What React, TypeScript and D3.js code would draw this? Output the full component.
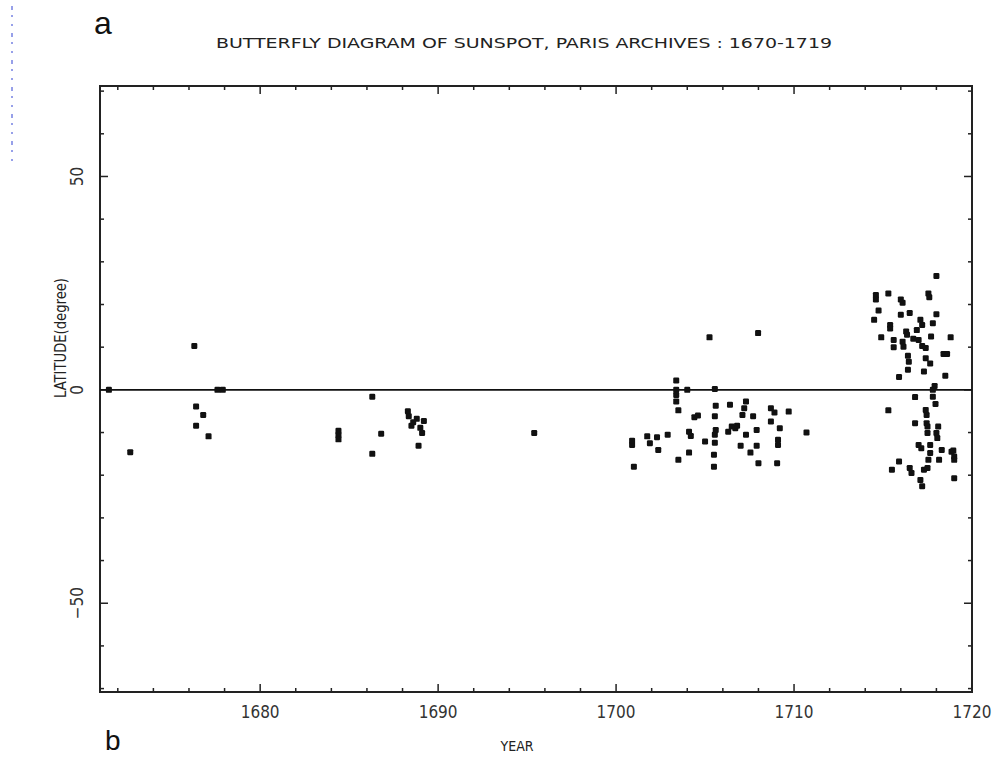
import React from "react";
import * as d3 from "d3";

// ---- data: [year, latitude(deg)] ----
const earlySpots: [number, number][] = [
  [1671.5, 0], [1672.7, -14.6], [1676.3, 10.3], [1676.4, -3.9], [1676.8, -5.9],
  [1676.4, -8.4], [1677.1, -10.9], [1677.6, 0], [1677.9, 0],
  [1684.4, -9.6], [1684.4, -10.6], [1684.4, -11.6], [1686.3, -1.6], [1686.3, -15],
  [1686.8, -10.3], [1688.3, -5.0], [1688.35, -6.2], [1688.8, -6.8], [1689.2, -7.3],
  [1688.5, -8.4], [1689.1, -10.1], [1688.9, -13.1], [1688.6, -7.6], [1689.0, -8.9],
  [1695.4, -10.1],
];

const midSpots: [number, number][] = [
  [1705.25, 12.3], [1707.98, 13.3], [1703.38, 2.2], [1703.38, 0], [1703.38, -1.2],
  [1703.38, -2.7], [1704.0, 0], [1705.55, 0.2], [1703.5, -4.8], [1705.6, -3.7],
  [1706.4, -3.5], [1707.3, -2.7], [1707.2, -4.3], [1708.7, -4.3], [1708.9, -5.3], [1709.7, -5.1],
  [1704.4, -6.4], [1704.6, -6.0], [1705.55, -6.2], [1707.7, -6.2], [1707.1, -5.9],
  [1708.7, -7.4], [1705.6, -9.4], [1704.1, -9.8], [1706.3, -9.8], [1706.7, -9.0],
  [1707.3, -10.5], [1707.9, -9.4], [1709.2, -9.0], [1710.7, -10.0], [1700.9, -12.9],
  [1700.9, -11.9], [1701.75, -10.9], [1701.9, -12.5], [1702.3, -11.1], [1702.9, -10.5],
  [1702.37, -14.1], [1704.2, -10.8], [1705.0, -12.1], [1705.55, -10.5], [1705.55, -12.4],
  [1704.1, -14.7], [1703.5, -16.4], [1701.0, -18.0], [1705.5, -15.2], [1705.5, -18.0],
  [1707.0, -13.1], [1707.55, -14.7], [1707.9, -13.1], [1708.0, -17.2], [1709.1, -12.9],
  [1709.05, -17.2], [1709.1, -11.7], [1706.5, -8.6], [1706.8, -8.4],
];

const lateNorthSpots: [number, number][] = [
  [1718.0, 26.7], [1714.6, 22.2], [1714.6, 21.2], [1715.3, 22.6], [1716.0, 21.2],
  [1716.1, 20.4], [1717.55, 22.6], [1717.6, 21.7], [1714.75, 18.6], [1714.5, 16.4],
  [1716.0, 17.6], [1716.5, 18.0], [1717.1, 16.4], [1717.2, 15.2], [1718.0, 17.7],
  [1717.8, 15.6], [1715.4, 15.2], [1715.4, 14.4], [1716.3, 13.7], [1716.35, 12.9],
  [1714.9, 12.3], [1715.6, 11.7], [1715.6, 10.0], [1716.1, 11.3], [1716.15, 10.1],
  [1717.0, 11.7], [1717.2, 10.3], [1717.4, 9.8], [1717.7, 12.5], [1718.8, 12.3],
  [1718.4, 8.4], [1718.6, 8.4], [1716.4, 8.0], [1716.45, 6.6], [1717.4, 7.4],
  [1717.65, 6.2], [1716.4, 4.7], [1717.3, 4.3], [1718.5, 3.3], [1715.9, 3.0],
  [1717.9, 0.9], [1716.9, 14.0], [1716.7, 12.0],
];

const lateSouthSpots: [number, number][] = [
  [1717.8, 0], [1716.8, -1.7], [1717.8, -1.6], [1717.95, -3.3], [1715.3, -4.8],
  [1717.4, -4.7], [1717.45, -5.9], [1716.8, -7.8], [1717.45, -7.8], [1717.5, -8.6],
  [1717.5, -10.1], [1718.1, -8.6], [1718.0, -10.1], [1718.05, -11.3], [1717.0, -12.9],
  [1717.15, -13.7], [1717.65, -12.9], [1717.65, -14.8], [1718.3, -14.1], [1718.85, -14.5],
  [1718.95, -14.2], [1719.0, -15.6], [1719.0, -16.4], [1718.15, -16.4], [1717.55, -16.4],
  [1717.5, -18.3], [1715.9, -16.8], [1715.5, -18.7], [1716.5, -18.3], [1716.6, -19.5],
  [1717.1, -21.1], [1717.2, -22.6], [1719.0, -20.7], [1717.3, -18.7],
];

const xTickLabels = [1680, 1690, 1700, 1710, 1720];
const yTickLabels = [-50, 0, 50];
const xDomain: [number, number] = [1671, 1720];
const yDomain: [number, number] = [-70.8, 71.2];

const titleText = "BUTTERFLY DIAGRAM OF SUNSPOT, PARIS ARCHIVES :  1670-1719";
const xAxisTitle = "YEAR";
const yAxisTitle = "LATITUDE(degree)";

export default function App() {
  const W = 1005, H = 758;
  const left = 100, right = 972, top = 86, bottom = 692;
  const x = d3.scaleLinear().domain(xDomain).range([left, right]);
  const y = d3.scaleLinear().domain(yDomain).range([bottom, top]);

  const allSpots = [...earlySpots, ...midSpots, ...lateNorthSpots, ...lateSouthSpots];

  const xMinor = d3.range(1672, 1720.01, 2);
  const yMinor = d3.range(-70, 70.01, 10);
  const yMajor = [-50, 0, 50];

  const ink = "#222";
  const blueDots = d3.range(6, 160, 9);
  const condensed = "DejaVu Sans Condensed, Liberation Sans Narrow, sans-serif";

  return (
    <svg width={W} height={H} style={{ position: "absolute", left: 0, top: 0, background: "#fff" }}>
      <rect x={0} y={0} width={W} height={H} fill="#fff" />
      {blueDots.map((d, i) => (
        <rect key={"b" + i} x={11} y={d} width={2} height={i % 3 === 0 ? 4 : 2} fill="#6b78e0" opacity={0.7} />
      ))}
      {/* panel letters */}
      <text x={94} y={34} fontFamily="Liberation Sans, Arial, sans-serif" fontSize={32} fill="#111">a</text>
      <text x={105} y={750} fontFamily="Liberation Sans, Arial, sans-serif" fontSize={28} fill="#111">b</text>

      {/* title */}
      <text x={216} y={48} fontFamily={condensed} fontSize={14}
        textLength={616} lengthAdjust="spacingAndGlyphs" fill="#222">{titleText}</text>

      {/* frame */}
      <rect x={left} y={top} width={right - left} height={bottom - top} fill="none" stroke={ink} strokeWidth={2} />

      {/* x ticks bottom & top */}
      {xMinor.map((v) => (
        <g key={"xt" + v}>
          <line x1={x(v)} x2={x(v)} y1={bottom} y2={bottom - (v % 10 === 0 ? 8 : 4)} stroke={ink} strokeWidth={1.5} />
          <line x1={x(v)} x2={x(v)} y1={top} y2={top + (v % 10 === 0 ? 8 : 4)} stroke={ink} strokeWidth={1.5} />
        </g>
      ))}
      {/* y ticks left & right */}
      {yMinor.map((v) => (
        <g key={"yt" + v}>
          <line x1={left} x2={left + (yMajor.includes(v) ? 8 : 4)} y1={y(v)} y2={y(v)} stroke={ink} strokeWidth={1.5} />
          <line x1={right} x2={right - (yMajor.includes(v) ? 8 : 4)} y1={y(v)} y2={y(v)} stroke={ink} strokeWidth={1.5} />
        </g>
      ))}

      {/* x tick labels */}
      {xTickLabels.map((v) => (
        <text key={"xl" + v} x={x(v)} y={718} textAnchor="middle" fontFamily={condensed}
          fontSize={17} fill="#333">{v}</text>
      ))}
      {/* y tick labels (rotated) */}
      {yTickLabels.map((v) => (
        <text key={"yl" + v} transform={`translate(83,${y(v)}) rotate(-90)`} textAnchor="middle"
          fontFamily={condensed} fontSize={17} fill="#333">
          {v === 0 ? "0" : v < 0 ? "\u2212" + Math.abs(v) : String(v)}
        </text>
      ))}

      {/* axis titles */}
      <text x={517} y={751} textAnchor="middle" fontFamily={condensed}
        fontSize={14} fill="#222">{xAxisTitle}</text>
      <text transform={`translate(66,${338}) rotate(-90)`} textAnchor="middle"
        fontFamily={condensed} fontSize={15}
        textLength={120} lengthAdjust="spacingAndGlyphs" fill="#222">{yAxisTitle}</text>

      {/* equator line */}
      <line x1={left} x2={right} y1={y(0)} y2={y(0)} stroke="#111" strokeWidth={1.6} />

      {/* spots */}
      {allSpots.map(([yr, lat], i) => (
        <rect key={"s" + i} x={x(yr) - 3} y={y(lat) - 3} width={6} height={6} rx={1.2} fill="#111" />
      ))}
    </svg>
  );
}
